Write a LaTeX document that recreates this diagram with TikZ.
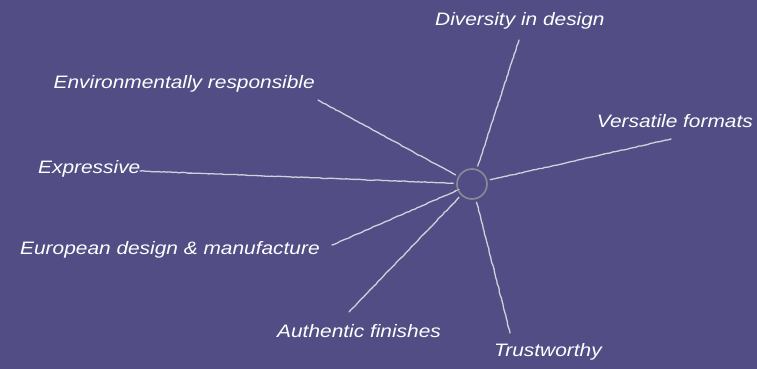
\documentclass[tikz,border=0pt]{standalone}
\usepackage{fontspec}
\usepackage{graphicx}
\setmainfont{Liberation Sans}
\usetikzlibrary{decorations.pathmorphing}
\definecolor{bgc}{HTML}{524E85}
\definecolor{chalk}{HTML}{D2D0DC}
\definecolor{ring}{HTML}{8C8A94}
\newcommand\widelab[1]{\scalebox{1.16}[1]{#1}}
\begin{document}
\begin{tikzpicture}[x=1pt,y=-1pt,
  lbl/.style={text=white,font=\itshape\fontsize{18}{20}\selectfont,inner sep=0pt},
  spoke/.style={draw=chalk,line width=1.3pt,line cap=round,
    decorate,decoration={random steps,segment length=3pt,amplitude=0.35pt}},
  hub/.style={circle,draw=ring,line width=1.6pt,minimum size=30pt,inner sep=0pt}]
\fill[bgc] (0,0) rectangle (757,369);
\useasboundingbox (0,0) rectangle (757,369);
\node[hub] (c) at (472,184) {};
\node[lbl,anchor=west] (div) at (435,21) {\widelab{Diversity in design}};
\node[lbl,anchor=east] (env) at (315,84) {\widelab{Environmentally responsible}};
\node[lbl,anchor=west] (exp) at (38,169) {\widelab{Expressive}};
\node[lbl,anchor=east] (ver) at (753,121) {\widelab{Versatile formats}};
\node[lbl,anchor=west] (eur) at (20,250) {\widelab{European design \& manufacture}};
\node[lbl,anchor=west] (aut) at (277,331) {\widelab{Authentic finishes}};
\node[lbl,anchor=west] (tru) at (494,352) {\widelab{Trustworthy}};
\coordinate (pdiv) at (519,40);
\coordinate (pver) at (671,139);
\coordinate (penv) at (318,100);
\coordinate (pexp) at (140,171);
\coordinate (peur) at (332,245);
\coordinate (paut) at (349,312);
\coordinate (ptru) at (510,333);
\foreach \p in {pdiv,pver,penv,pexp,peur,paut,ptru}
  \draw[spoke,shorten >=3pt] (\p) -- (c);
\end{tikzpicture}
\end{document}
